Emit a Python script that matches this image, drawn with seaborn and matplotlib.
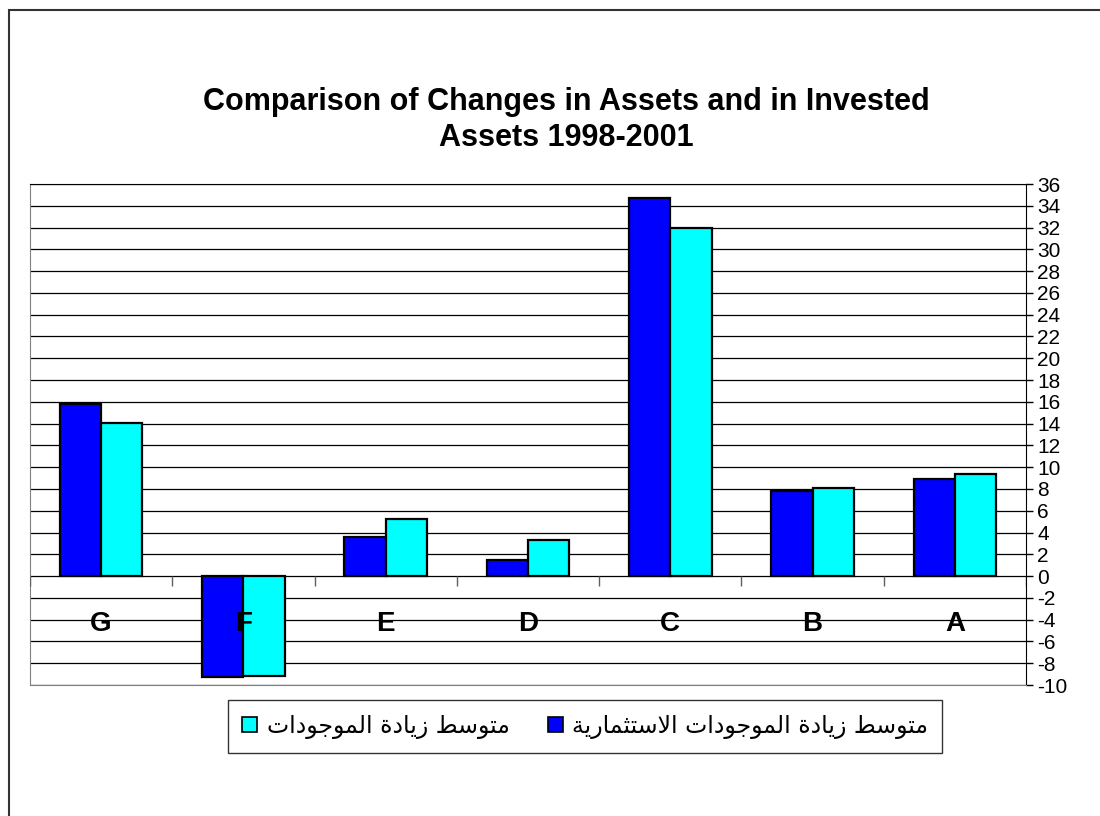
import pandas as pd
import seaborn as sns
import matplotlib.pyplot as plt
from matplotlib.patches import Patch, Rectangle

# Chart data
categories = ['A', 'B', 'C', 'D', 'E', 'F', 'G']
invested_assets = [8.9, 7.8, 34.7, 1.5, 3.6, -9.3, 15.8]
total_assets = [9.4, 8.1, 32.0, 3.3, 5.2, -9.2, 14.1]
series_names = ['متوسط زيادة الموجودات الاستثمارية', 'متوسط زيادة الموجودات']
series_colors = ['#0000FF', '#00FFFF']
y_ticks = list(range(-10, 37, 2))
title = 'Comparison of Changes in Assets and in Invested\nAssets 1998-2001'

# matplotlib has no Arabic shaping, so pick the contextual forms by hand
FORMS = {
    'ا': ('\uFE8D', '\uFE8E'), 'د': ('\uFEA9', '\uFEAA'), 'ر': ('\uFEAD', '\uFEAE'),
    'ز': ('\uFEAF', '\uFEB0'), 'و': ('\uFEED', '\uFEEE'), 'ة': ('\uFE93', '\uFE94'),
    'م': ('\uFEE1', '\uFEE2', '\uFEE3', '\uFEE4'), 'ت': ('\uFE95', '\uFE96', '\uFE97', '\uFE98'),
    'س': ('\uFEB1', '\uFEB2', '\uFEB3', '\uFEB4'), 'ط': ('\uFEC1', '\uFEC2', '\uFEC3', '\uFEC4'),
    'ي': ('\uFEF1', '\uFEF2', '\uFEF3', '\uFEF4'), 'ل': ('\uFEDD', '\uFEDE', '\uFEDF', '\uFEE0'),
    'ج': ('\uFE9D', '\uFE9E', '\uFE9F', '\uFEA0'), 'ث': ('\uFE99', '\uFE9A', '\uFE9B', '\uFE9C'),
}


def joins_next(c):
    return c in FORMS and len(FORMS[c]) == 4


def shape_arabic(text):
    out = []
    i = 0
    while i < len(text):
        c = text[i]
        if c not in FORMS:
            out.append(c)
            i += 1
            continue
        j_prev = i > 0 and joins_next(text[i - 1])
        if c == 'ل' and i + 1 < len(text) and text[i + 1] == 'ا':
            out.append('\uFEFC' if j_prev else '\uFEFB')
            i += 2
            continue
        j_next = joins_next(c) and i + 1 < len(text) and text[i + 1] in FORMS
        f = FORMS[c]
        if j_prev and j_next:
            out.append(f[3])
        elif j_prev:
            out.append(f[1])
        elif j_next:
            out.append(f[2])
        else:
            out.append(f[0])
        i += 1
    return ''.join(reversed(out))


df = pd.DataFrame({
    'category': categories * 2,
    'value': invested_assets + total_assets,
    'series': [series_names[0]] * len(categories) + [series_names[1]] * len(categories),
})
order = categories[::-1]

sns.set_style('white')
plt.rcParams['font.family'] = ['Liberation Sans', 'DejaVu Sans']
plt.rcParams['text.color'] = 'black'
plt.rcParams['ytick.labelcolor'] = 'black'
plt.rcParams['axes.unicode_minus'] = False

fig = plt.figure(figsize=(11, 8.16), dpi=100)
ax = fig.add_axes([0.0273, 0.1605, 0.9054, 0.614])

# horizontal grid
for t in y_ticks:
    ax.axhline(t, color='black', lw=0.9, zorder=0)

sns.barplot(data=df, x='category', y='value', hue='series', order=order,
            hue_order=series_names, palette=dict(zip(series_names, series_colors)),
            width=0.58, gap=0, edgecolor='black', linewidth=1.6, saturation=1,
            legend=False, ax=ax, zorder=2)

ax.set_xlim(-0.5, len(order) - 0.5)
ax.set_ylim(-10, 36)
ax.yaxis.tick_right()
ax.set_yticks(y_ticks)
ax.tick_params(axis='y', labelsize=15, length=5, width=1, color='black', pad=3, right=True)
ax.set_xticks([])
ax.set_xlabel('')
ax.set_ylabel('')
for side in ['left', 'bottom']:
    ax.spines[side].set_color('#808080')
for side in ['right', 'top']:
    ax.spines[side].set_color('black')

# category boundary ticks on the zero line
ax.vlines([i - 0.5 for i in range(len(order) + 1)], -0.9, 0, color='#606060', lw=1, zorder=3)

# category labels sit inside the plot below zero
for i, cat in enumerate(order):
    ax.text(i, -4.4, cat, ha='center', va='center', fontsize=20, fontweight='bold', zorder=4)

fig.text(0.515, 0.853, title, ha='center', va='center', fontsize=22,
         fontweight='bold', linespacing=1.3)

handles = [Patch(facecolor=series_colors[1], edgecolor='black', lw=1.2),
           Patch(facecolor=series_colors[0], edgecolor='black', lw=1.2)]
labels = [shape_arabic(series_names[1]), shape_arabic(series_names[0])]
leg = fig.legend(handles, labels, loc='center', bbox_to_anchor=(0.532, 0.110), ncol=2,
                 frameon=True, fancybox=False, edgecolor='black',
                 handlelength=0.65, handleheight=0.65, handletextpad=0.4,
                 columnspacing=1.6, borderpad=0.6,
                 prop={'family': ['DejaVu Sans'], 'size': 17})
leg.get_frame().set_linewidth(1)

# outer chart border
fig.patches.append(Rectangle((9 / 1100, -0.1), 1.2, 1.1 - 10 / 816,
                             transform=fig.transFigure, fill=False,
                             edgecolor='#333333', lw=1.5))

fig.savefig('out.png', dpi=100)
